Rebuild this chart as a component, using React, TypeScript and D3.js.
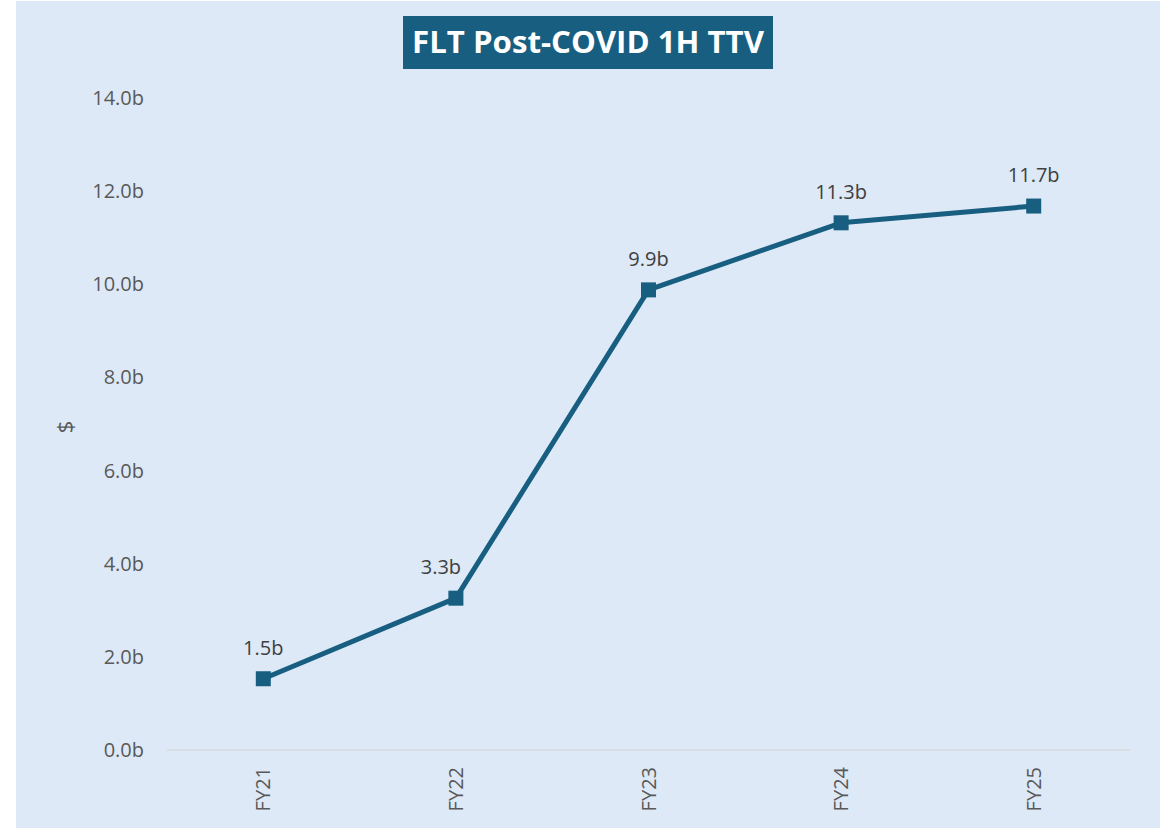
import React, { useRef, useEffect } from 'react';
import * as d3 from 'd3';

const categories = ['FY21', 'FY22', 'FY23', 'FY24', 'FY25'];
const ttv = [1.53, 3.26, 9.88, 11.32, 11.68];
// horizontal nudge of each data label (FY22's sits left of the line)
const labelShift = [0, -15, 0, 0, 0];
const yTicks = [0, 2, 4, 6, 8, 10, 12, 14];
const title = 'FLT Post-COVID 1H TTV';
const yTitle = '$';

function TTVChart() {
    const svgRef = useRef<SVGSVGElement>(null);

    useEffect(() => {
        const width = 1170;
        const height = 828;
        const margin = { top: 98, bottom: 78, left: 167, right: 40 };
        const font = '"Open Sans", sans-serif';
        const blue = '#175e80';

        const svg = d3.select(svgRef.current)
            .attr('width', width)
            .attr('height', height);
        svg.selectAll('*').remove();

        // panel background
        svg.append('rect')
            .attr('x', 16).attr('y', 1)
            .attr('width', 1144).attr('height', 827)
            .attr('fill', '#dde9f6');

        const xScale = d3.scaleBand()
            .domain(categories)
            .range([margin.left, width - margin.right])
            .padding(0);

        const yScale = d3.scaleLinear()
            .domain([0, 14])
            .range([height - margin.bottom, margin.top]);

        // baseline
        svg.append('line')
            .attr('x1', margin.left).attr('x2', width - margin.right)
            .attr('y1', yScale(0)).attr('y2', yScale(0))
            .attr('stroke', '#d4d8dd').attr('stroke-width', 1.5);

        // y tick labels
        svg.append('g')
            .selectAll('text')
            .data(yTicks)
            .join('text')
            .attr('x', 144)
            .attr('y', d => yScale(d))
            .attr('dy', '0.35em')
            .attr('text-anchor', 'end')
            .attr('font-family', font)
            .attr('font-size', 20)
            .attr('fill', '#595959')
            .text(d => d.toFixed(1) + 'b');

        // x tick labels, rotated
        svg.append('g')
            .selectAll('text')
            .data(categories)
            .join('text')
            .attr('transform', d => `translate(${xScale(d)! + xScale.bandwidth() / 2 + 7}, 767) rotate(-90)`)
            .attr('text-anchor', 'end')
            .attr('font-family', font)
            .attr('font-size', 20)
            .attr('fill', '#595959')
            .text(d => d);

        // y axis title
        svg.append('text')
            .attr('transform', 'translate(73, 427) rotate(-90)')
            .attr('text-anchor', 'middle')
            .attr('font-family', font)
            .attr('font-size', 22)
            .attr('fill', '#595959')
            .text(yTitle);

        const cx = (d: string) => xScale(d)! + xScale.bandwidth() / 2;

        const line = d3.line<number>()
            .x((d, i) => cx(categories[i]))
            .y(d => yScale(d))
            .curve(d3.curveLinear);

        svg.append('path')
            .datum(ttv)
            .attr('d', line)
            .attr('fill', 'none')
            .attr('stroke', blue)
            .attr('stroke-width', 5)
            .attr('stroke-linejoin', 'round');

        svg.append('g')
            .selectAll('rect')
            .data(ttv)
            .join('rect')
            .attr('x', (d, i) => cx(categories[i]) - 7.5)
            .attr('y', d => yScale(d) - 7.5)
            .attr('width', 15)
            .attr('height', 15)
            .attr('fill', blue);

        // data labels
        svg.append('g')
            .selectAll('text')
            .data(ttv)
            .join('text')
            .attr('x', (d, i) => cx(categories[i]) + labelShift[i])
            .attr('y', d => yScale(d) - 24)
            .attr('text-anchor', 'middle')
            .attr('font-family', font)
            .attr('font-size', 20)
            .attr('fill', '#404040')
            .text(d => d.toFixed(1) + 'b');

        // title box
        svg.append('rect')
            .attr('x', 403).attr('y', 16)
            .attr('width', 370).attr('height', 53)
            .attr('fill', blue);

        svg.append('text')
            .attr('x', 588).attr('y', 53)
            .attr('text-anchor', 'middle')
            .attr('font-family', font)
            .attr('font-weight', 'bold')
            .attr('font-size', 30)
            .attr('fill', '#ffffff')
            .attr('textLength', 352)
            .attr('lengthAdjust', 'spacingAndGlyphs')
            .text(title);
    }, []);

    return (
        <svg ref={svgRef} style={{ position: 'absolute', left: 0, top: 0, display: 'block' }}></svg>
    );
}

export default function App() {
    return <TTVChart />;
}
